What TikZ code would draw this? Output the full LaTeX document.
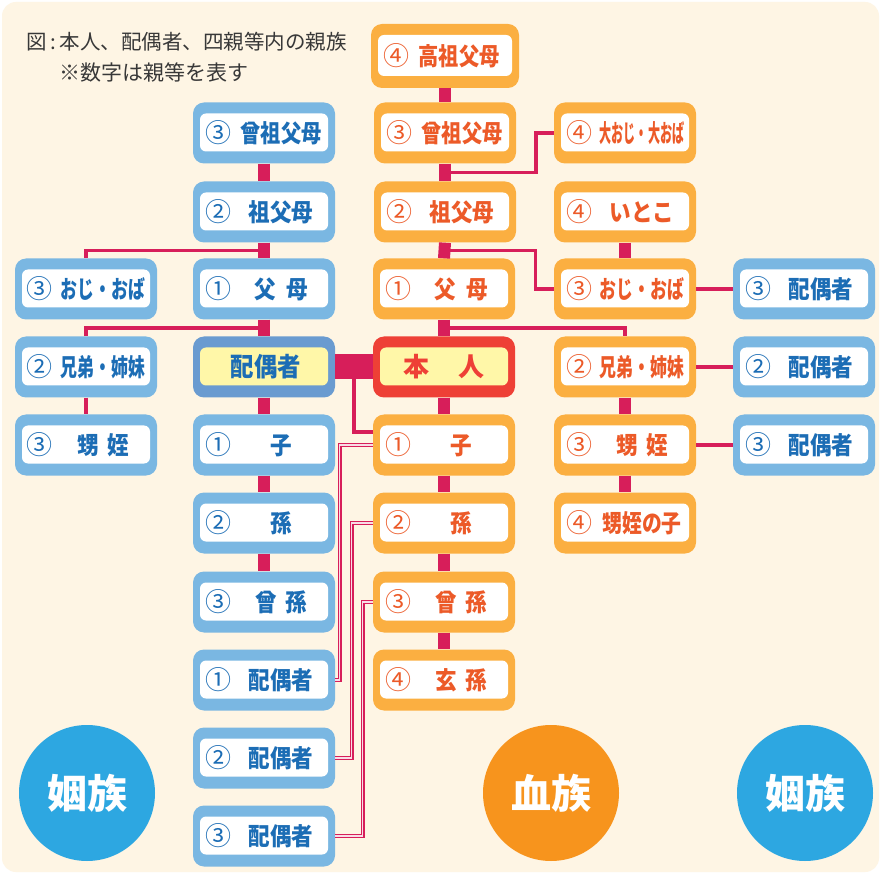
\documentclass[tikz,border=0pt]{standalone}
\usepackage{fontspec}
\newfontfamily\jp{Noto Sans CJK JP}
\usetikzlibrary{calc}

\definecolor{paper}{HTML}{FEF5E4}
\definecolor{frameB}{HTML}{7AB7E2}
\definecolor{frameBd}{HTML}{6A9BD0}
\definecolor{frameO}{HTML}{FBAF41}
\definecolor{frameR}{HTML}{EE4036}
\definecolor{txtB}{HTML}{1C6DB5}
\definecolor{txtO}{HTML}{EC5A28}
\definecolor{hilite}{HTML}{FFF7A8}
\definecolor{crimson}{HTML}{D71E5A}
\definecolor{ballB}{HTML}{2DA7E1}
\definecolor{ballO}{HTML}{F7941D}

\newcommand\kintext[2]{\hspace*{12pt}\makebox[26pt]{\mdseries\fontsize{26}{26}\selectfont#1}\hspace*{2pt}\makebox[96pt]{\scalebox{0.88}[1]{\bfseries#2}}}
\newcommand\squeeze[2][96pt]{\resizebox{#1}{\height}{#2}}

\tikzset{
  kin/.style={minimum width=142pt, minimum height=61pt, inner sep=0pt, text width=142pt,
    rounded corners=11pt, font=\jp\fontsize{24.5}{24.5}\selectfont,
    path picture={\fill[#1, rounded corners=6pt]
      ([shift={(7pt,-11pt)}]path picture bounding box.north west) rectangle
      ([shift={(-7pt,12pt)}]path picture bounding box.south east);}},
  blood/.style={kin=white, fill=frameO, text=txtO},
  inlaw/.style={kin=white, fill=frameB, text=txtB},
  bar/.style={draw=crimson, line width=12pt},
  branch/.style={draw=crimson, line width=3.5pt},
  wed/.style={draw=crimson, line width=1.4pt, double=white!85!crimson, double distance=1.2pt},
  ball/.style={circle, minimum size=136pt, inner sep=0pt, text=white,
    font=\jp\bfseries\fontsize{40}{40}\selectfont},
}

\begin{document}
\begin{tikzpicture}[x=1pt,y=-1pt]
  \useasboundingbox (0,0) rectangle (881,874);
  \fill[white] (0,0) rectangle (881,874);
  \fill[paper, rounded corners=14pt] (2,2) rectangle (879,872);

  \node[anchor=west, text=black!78, font=\jp\fontsize{20.5}{20.5}\selectfont] (title) at (23,42) {図\,:\,本人、配偶者、四親等内の親族};
  \node[anchor=west, text=black!78, font=\jp\fontsize{21}{21}\selectfont] (note) at (56,73) {※数字は親等を表す};

  %% blood relatives, main line
  \node[blood, minimum width=148pt, minimum height=64pt, text width=148pt] (c0) at (445,56) {\kintext{④}{\squeeze[92pt]{高祖父母}}};
  \node[blood] (c1) at (445,133) {\kintext{③}{\squeeze[92pt]{曾祖父母}}};
  \node[blood] (c2) at (445,212) {\kintext{②}{祖父母}};
  \node[blood] (c3) at (444,289) {\kintext{①}{父\hspace{12pt}母}};
  \node[kin=hilite, fill=frameR, text=frameR, align=center, font=\jp\fontsize{26}{26}\selectfont] (c4) at (444,367) {\bfseries 本\hspace{30pt}人};
  \node[blood] (c5) at (444,445) {\kintext{①}{子}};
  \node[blood] (c6) at (444,523) {\kintext{②}{孫}};
  \node[blood] (c7) at (444,602) {\kintext{③}{曾\hspace{10pt}孫}};
  \node[blood] (c8) at (444,680) {\kintext{④}{玄\hspace{10pt}孫}};

  %% blood relatives, side line
  \node[blood] (d1) at (625,133) {\kintext{④}{\squeeze{大おじ・大おば}}};
  \node[blood] (d2) at (625,212) {\kintext{④}{いとこ}};
  \node[blood] (d3) at (625,289) {\kintext{③}{\squeeze{おじ・おば}}};
  \node[blood] (d4) at (625,367) {\kintext{②}{\squeeze{兄弟・姉妹}}};
  \node[blood] (d5) at (625,445) {\kintext{③}{甥\hspace{10pt}姪}};
  \node[blood] (d6) at (625,523) {\kintext{④}{\squeeze[90pt]{甥姪の子}}};

  \node[inlaw] (e3) at (804,289) {\kintext{③}{配偶者}};
  \node[inlaw] (e4) at (804,367) {\kintext{②}{配偶者}};
  \node[inlaw] (e5) at (804,445) {\kintext{③}{配偶者}};

  %% relatives by marriage
  \node[inlaw] (b1) at (264,133) {\kintext{③}{\squeeze[92pt]{曾祖父母}}};
  \node[inlaw] (b2) at (264,212) {\kintext{②}{祖父母}};
  \node[inlaw] (b3) at (264,289) {\kintext{①}{父\hspace{12pt}母}};
  \node[kin=hilite, fill=frameBd, text=txtB, align=center, font=\jp\fontsize{26}{26}\selectfont] (b4) at (264,367) {\hspace*{4pt}\scalebox{0.9}[1]{\bfseries 配偶者}};
  \node[inlaw] (b5) at (264,445) {\kintext{①}{子}};
  \node[inlaw] (b6) at (264,523) {\kintext{②}{孫}};
  \node[inlaw] (b7) at (264,602) {\kintext{③}{曾\hspace{10pt}孫}};
  \node[inlaw] (b8) at (264,680) {\kintext{①}{配偶者}};
  \node[inlaw] (b9) at (264,758) {\kintext{②}{配偶者}};
  \node[inlaw] (b10) at (264,836) {\kintext{③}{配偶者}};

  \node[inlaw] (a3) at (86,289) {\kintext{③}{\squeeze{おじ・おば}}};
  \node[inlaw] (a4) at (86,367) {\kintext{②}{\squeeze{兄弟・姉妹}}};
  \node[inlaw] (a5) at (86,445) {\kintext{③}{甥\hspace{10pt}姪}};

  %% thick bars
  \foreach \u/\v in {c0/c1,c1/c2,c2/c3,c3/c4,c4/c5,c5/c6,c6/c7,c7/c8,
                     d2/d3,d4/d5,d5/d6,b1/b2,b2/b3,b3/b4,b4/b5,b5/b6,b6/b7}
    \draw[bar] (\u.south) -- (\v.north);
  \draw[crimson, line width=25pt] (b4.east) -- (c4.west);

  %% branches
  \coordinate (j12) at ($(c1.south)!.5!(c2.north)$);
  \coordinate (j23) at ($(c2.south)!.5!(c3.north)$);
  \coordinate (j34) at ($(c3.south)!.5!(c4.north)$);
  \coordinate (k23) at ($(b2.south)!.5!(b3.north)$);
  \coordinate (k34) at ($(b3.south)!.5!(b4.north)$);
  \coordinate (wed) at ($(b4.east)!.5!(c4.west)$);
  \draw[branch] (j12) -- ++(91,0) |- (d1.west);
  \draw[branch] (j23) -- ++(91,0) |- (d3.west);
  \draw[branch] (j34) -| (d4.north);
  \draw[branch] (k23) -| (a3.north);
  \draw[branch] (k34) -| (a4.north);
  \draw[branch] (a4.south) -- (a5.north);
  \draw[branch] (d3.east) -- (e3.west);
  \draw[branch] (d4.east) -- (e4.west);
  \draw[branch] (d5.east) -- (e5.west);
  \draw[branch] (wed) |- ([yshift=13pt]c5.west);

  %% spouses of descendants
  \draw[wed] (c5.west) -- ++(-33,0) |- (b8.east);
  \draw[wed] (c6.west) -- ++(-21,0) |- (b9.east);
  \draw[wed] (c7.west) -- ++(-10,0) |- (b10.east);

  \node[ball, fill=ballB] (inzokuL) at (87,793) {姻族};
  \node[ball, fill=ballO] (ketsuzoku) at (551,793) {血族};
  \node[ball, fill=ballB] (inzokuR) at (805,793) {姻族};
\end{tikzpicture}
\end{document}
